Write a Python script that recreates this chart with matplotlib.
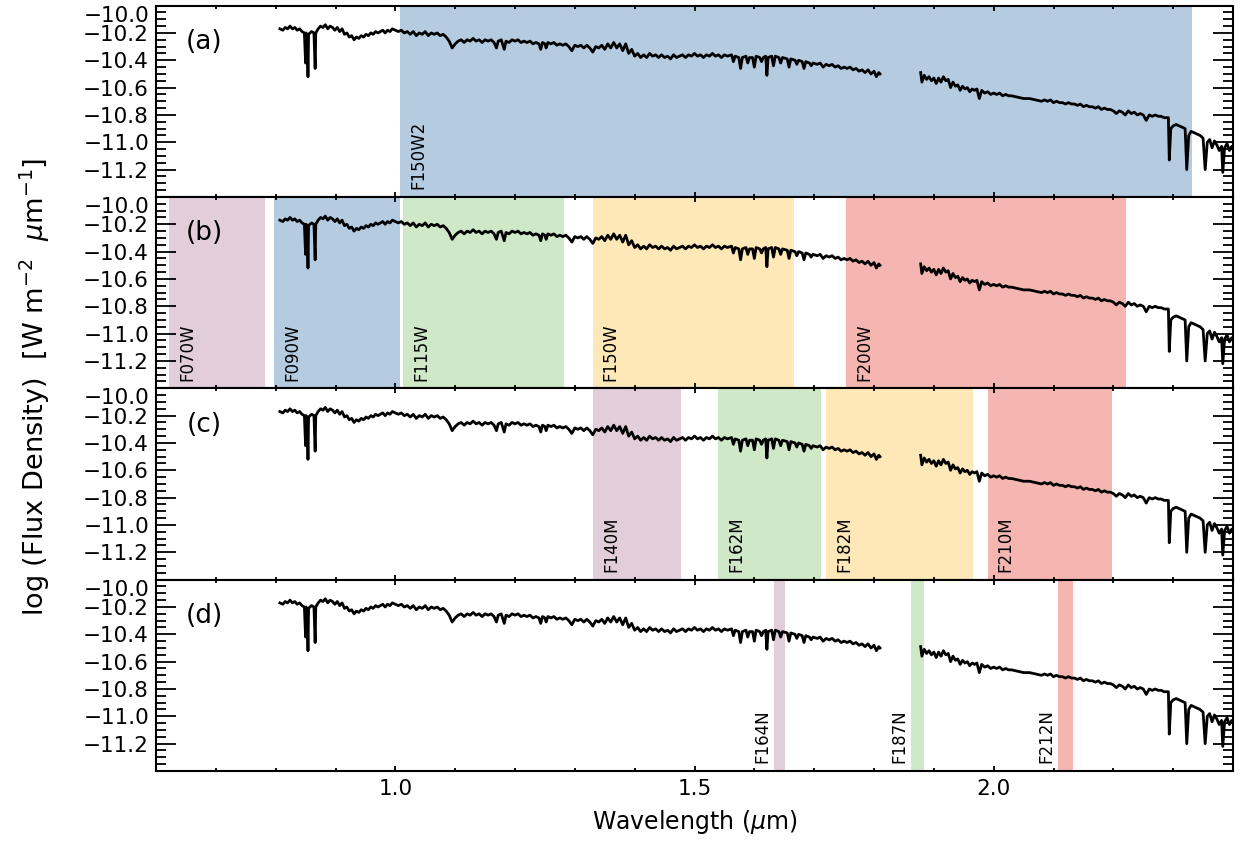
#!/usr/bin/env python3
"""NIRCam filter bands over a stellar spectrum, four stacked panels."""

import numpy as np
import matplotlib
matplotlib.use('Agg')
import matplotlib.pyplot as plt
from matplotlib.ticker import MultipleLocator, FixedLocator

# band colours
PINK = '#E2CDDA'
BLUE = '#B5CBE0'
GREEN = '#CFE8C8'
YELLOW = '#FEE8B7'
RED = '#F5B6B2'

plt.rcParams.update({
    'font.family': 'DejaVu Sans',
    'axes.linewidth': 1.5,
    'xtick.direction': 'in',
    'ytick.direction': 'in',
})

# ---- spectrum, blue part and red part ----
wave_blue = [
    0.807, 0.812, 0.816, 0.820, 0.824, 0.828, 0.832, 0.836, 0.840, 0.844,
    0.848, 0.850, 0.851, 0.853, 0.854, 0.855, 0.860, 0.864, 0.866, 0.867,
    0.871, 0.875, 0.879, 0.883, 0.887, 0.891, 0.895, 0.899, 0.903, 0.907,
    0.911, 0.915, 0.919, 0.923, 0.927, 0.931, 0.935, 0.939, 0.943, 0.947,
    0.951, 0.955, 0.959, 0.963, 0.967, 0.971, 0.975, 0.979, 0.983, 0.987,
    0.991, 0.995, 1.000, 1.005, 1.010, 1.015, 1.020, 1.025, 1.030, 1.035,
    1.040, 1.045, 1.050, 1.055, 1.060, 1.065, 1.070, 1.075, 1.080, 1.085,
    1.090, 1.095, 1.100, 1.105, 1.110, 1.115, 1.120, 1.125, 1.130, 1.135,
    1.140, 1.145, 1.150, 1.155, 1.160, 1.165, 1.169, 1.172, 1.177, 1.182,
    1.185, 1.190, 1.195, 1.200, 1.205, 1.210, 1.215, 1.220, 1.225, 1.230,
    1.235, 1.240, 1.243, 1.246, 1.250, 1.252, 1.255, 1.260, 1.265, 1.270,
    1.275, 1.280, 1.285, 1.290, 1.295, 1.300, 1.305, 1.310, 1.315, 1.320,
    1.325, 1.330, 1.335, 1.340, 1.345, 1.350, 1.355, 1.360, 1.365, 1.370,
    1.375, 1.380, 1.385, 1.390, 1.395, 1.400, 1.405, 1.410, 1.415, 1.420,
    1.425, 1.430, 1.435, 1.440, 1.445, 1.450, 1.455, 1.460, 1.465, 1.470,
    1.475, 1.480, 1.485, 1.490, 1.495, 1.500, 1.505, 1.510, 1.515, 1.520,
    1.525, 1.530, 1.535, 1.540, 1.545, 1.550,
    1.555, 1.562, 1.565, 1.568, 1.574, 1.577, 1.580, 1.586, 1.589, 1.592,
    1.597, 1.600, 1.603, 1.609, 1.612, 1.615, 1.619, 1.621, 1.623, 1.629,
    1.632, 1.635, 1.641, 1.644, 1.647, 1.655, 1.658, 1.661, 1.668, 1.671,
    1.674, 1.680, 1.683, 1.686, 1.692, 1.695, 1.698, 1.705, 1.710, 1.715,
    1.720, 1.725, 1.730, 1.735, 1.740, 1.745, 1.750, 1.755, 1.760, 1.765,
    1.770, 1.775, 1.780, 1.785, 1.790, 1.795, 1.800, 1.804, 1.808, 1.810,
]
flux_blue = [
    -10.17, -10.18, -10.16, -10.17, -10.15, -10.17, -10.16, -10.18, -10.17, -10.19,
    -10.20, -10.42, -10.20, -10.30, -10.52, -10.21, -10.19, -10.20, -10.46, -10.20,
    -10.17, -10.15, -10.16, -10.14, -10.17, -10.15, -10.16, -10.18, -10.16, -10.19,
    -10.17, -10.21, -10.20, -10.23, -10.22, -10.25, -10.23, -10.24, -10.22, -10.23,
    -10.21, -10.22, -10.20, -10.21, -10.19, -10.20, -10.19, -10.18, -10.20, -10.18,
    -10.19, -10.17, -10.18, -10.19, -10.18, -10.20, -10.19, -10.21, -10.19, -10.22,
    -10.20, -10.21, -10.19, -10.22, -10.20, -10.21, -10.20, -10.22, -10.21, -10.23,
    -10.26, -10.31, -10.28, -10.26, -10.25, -10.27, -10.25, -10.26, -10.24, -10.26,
    -10.25, -10.27, -10.25, -10.26, -10.25, -10.27, -10.31, -10.26, -10.25, -10.32,
    -10.26, -10.27, -10.25, -10.26, -10.25, -10.27, -10.26, -10.27, -10.26, -10.28,
    -10.27, -10.28, -10.32, -10.27, -10.28, -10.31, -10.27, -10.28, -10.27, -10.29,
    -10.28, -10.29, -10.28, -10.30, -10.33, -10.29, -10.30, -10.29, -10.31, -10.29,
    -10.31, -10.34, -10.30, -10.31, -10.29, -10.32, -10.28, -10.31, -10.27, -10.31,
    -10.28, -10.33, -10.28, -10.35, -10.32, -10.37, -10.35, -10.38, -10.36, -10.38,
    -10.35, -10.37, -10.36, -10.38, -10.36, -10.38, -10.37, -10.39, -10.36, -10.38,
    -10.37, -10.36, -10.38, -10.36, -10.37, -10.35, -10.37, -10.36, -10.38, -10.36,
    -10.37, -10.35, -10.37, -10.36, -10.38, -10.36,
    -10.37, -10.36, -10.41, -10.37, -10.38, -10.46, -10.38, -10.37, -10.42, -10.38,
    -10.38, -10.45, -10.37, -10.38, -10.41, -10.38, -10.37, -10.51, -10.38, -10.37,
    -10.44, -10.37, -10.38, -10.42, -10.38, -10.39, -10.45, -10.39, -10.40, -10.43,
    -10.40, -10.41, -10.46, -10.41, -10.42, -10.44, -10.42, -10.43, -10.42, -10.45,
    -10.43, -10.44, -10.43, -10.45, -10.44, -10.46, -10.45, -10.46, -10.45, -10.47,
    -10.46, -10.48, -10.47, -10.49, -10.47, -10.50, -10.48, -10.52, -10.49, -10.50,
]
wave_red = [
    1.878, 1.880, 1.884, 1.888, 1.892, 1.896, 1.900, 1.904, 1.908, 1.912,
    1.916, 1.920, 1.924, 1.928, 1.932, 1.936, 1.940, 1.944, 1.948, 1.952,
    1.956, 1.960, 1.964, 1.968, 1.972, 1.976, 1.980, 1.985, 1.990, 1.995,
    2.000, 2.005, 2.010, 2.015, 2.020, 2.025, 2.030, 2.040, 2.050, 2.060,
    2.070, 2.080, 2.085, 2.090, 2.095, 2.100, 2.105, 2.110, 2.115, 2.120,
    2.125, 2.130, 2.135, 2.140, 2.145, 2.150, 2.155, 2.160, 2.165, 2.170,
    2.175, 2.180, 2.185, 2.190, 2.195, 2.200, 2.205, 2.210, 2.215, 2.220,
    2.225, 2.230, 2.235, 2.240, 2.245, 2.250, 2.255, 2.260, 2.265, 2.270,
    2.275, 2.280, 2.285, 2.292, 2.2935, 2.296, 2.300, 2.305, 2.310, 2.315,
    2.320, 2.3227, 2.326, 2.330, 2.335, 2.340, 2.345, 2.350, 2.3535, 2.357,
    2.361, 2.365, 2.369, 2.373, 2.377, 2.381, 2.3829, 2.386, 2.390, 2.394,
    2.398, 2.400,
]
flux_red = [
    -10.49, -10.56, -10.51, -10.54, -10.52, -10.55, -10.53, -10.57, -10.53, -10.56,
    -10.52, -10.55, -10.54, -10.60, -10.56, -10.59, -10.58, -10.62, -10.59, -10.61,
    -10.60, -10.63, -10.61, -10.62, -10.61, -10.68, -10.62, -10.64, -10.63, -10.65,
    -10.64, -10.65, -10.64, -10.66, -10.65, -10.66, -10.66, -10.67, -10.68, -10.68,
    -10.69, -10.70, -10.69, -10.70, -10.69, -10.71, -10.70, -10.71, -10.71, -10.72,
    -10.71, -10.72, -10.72, -10.73, -10.72, -10.74, -10.73, -10.74, -10.74, -10.75,
    -10.74, -10.76, -10.75, -10.76, -10.76, -10.77, -10.79, -10.77, -10.78, -10.80,
    -10.77, -10.79, -10.78, -10.80, -10.79, -10.80, -10.84, -10.80, -10.81, -10.80,
    -10.81, -10.81, -10.82, -10.82, -11.13, -10.90, -10.88, -10.87, -10.88, -10.89,
    -10.90, -11.20, -10.95, -10.92, -10.93, -10.94, -10.95, -10.97, -11.20, -11.00,
    -10.98, -11.04, -10.99, -11.02, -11.06, -11.03, -11.22, -11.04, -11.01, -11.06,
    -11.03, -11.05,
]

# ---- filter bands (edges in micron) ----
w2_names = ['F150W2']
w2_lo = [1.008]
w2_hi = [2.332]

wide_names = ['F070W', 'F090W', 'F115W', 'F150W', 'F200W']
wide_lo = [0.622, 0.797, 1.013, 1.330, 1.753]
wide_hi = [0.783, 1.007, 1.282, 1.666, 2.221]

medium_names = ['F140M', 'F162M', 'F182M', 'F210M']
medium_lo = [1.331, 1.540, 1.720, 1.990]
medium_hi = [1.478, 1.712, 1.966, 2.198]

narrow_names = ['F164N', 'F187N', 'F212N']
narrow_lo = [1.633, 1.862, 2.107]
narrow_hi = [1.652, 1.883, 2.132]

panel_tags = ['(a)', '(b)', '(c)', '(d)']
ytick_vals = [-11.2, -11.0, -10.8, -10.6, -10.4, -10.2, -10.0]
xtick_vals = [1.0, 1.5, 2.0]


def draw_bands(ax, names, lo, hi, colors, narrow=False):
    for name, a, b, c in zip(names, lo, hi, colors):
        ax.axvspan(a, b, color=c, lw=0, zorder=0)
        if narrow:
            ax.annotate(name, xy=(a, 0.04), xycoords=('data', 'axes fraction'),
                        xytext=(-2, 0), textcoords='offset points',
                        rotation=90, ha='right', va='bottom', fontsize=12)
        else:
            ax.annotate(name, xy=(a, 0.04), xycoords=('data', 'axes fraction'),
                        xytext=(6.5, 0), textcoords='offset points',
                        rotation=90, ha='left', va='bottom', fontsize=12)


def main():
    fig = plt.figure(figsize=(12.41, 8.51), dpi=100)
    axes = fig.subplots(4, 1, sharex=True, gridspec_kw=dict(hspace=0))
    fig.subplots_adjust(left=156 / 1241, right=1233 / 1241,
                        top=1 - 5.6 / 851, bottom=1 - 771 / 851)

    draw_bands(axes[0], w2_names, w2_lo, w2_hi, [BLUE])
    draw_bands(axes[1], wide_names, wide_lo, wide_hi, [PINK, BLUE, GREEN, YELLOW, RED])
    draw_bands(axes[2], medium_names, medium_lo, medium_hi, [PINK, GREEN, YELLOW, RED])
    draw_bands(axes[3], narrow_names, narrow_lo, narrow_hi, [PINK, GREEN, RED], narrow=True)

    ylabels = [('%.1f' % v).replace('-', '\u2212') for v in ytick_vals]
    for ax, tag in zip(axes, panel_tags):
        ax.plot(wave_blue, flux_blue, color='black', lw=2.0, zorder=2)
        ax.plot(wave_red, flux_red, color='black', lw=2.0, zorder=2)
        ax.text(0.0446, 0.81, tag, transform=ax.transAxes, fontsize=19,
                ha='center', va='center')

        ax.set_xlim(0.6, 2.4)
        ax.set_ylim(-11.4, -10.0)
        ax.set_yticks(ytick_vals)
        ax.set_yticklabels(ylabels)
        ax.yaxis.set_minor_locator(MultipleLocator(0.05))
        ax.get_yticklabels()[-1].set_va('top')
        ax.tick_params(axis='y', which='both', left=True, right=True,
                       labelsize=15.5, width=1.3, pad=5)
        ax.tick_params(axis='y', which='major', length=14.5)
        ax.tick_params(axis='y', which='minor', length=7)
        ax.tick_params(axis='x', which='both', top=True, bottom=True, width=1.3)
        ax.tick_params(axis='x', which='major', length=3.5)
        ax.tick_params(axis='x', which='minor', length=2.2)
        for sp in ax.spines.values():
            sp.set_zorder(3)

    bottom = axes[-1]
    bottom.xaxis.set_major_locator(FixedLocator(xtick_vals))
    bottom.xaxis.set_minor_locator(MultipleLocator(0.1))
    bottom.set_xticklabels(['%.1f' % v for v in xtick_vals])
    bottom.tick_params(axis='x', labelsize=15.5, pad=6)
    bottom.set_xlabel(r'Wavelength ($\mu$m)', fontsize=17, labelpad=6)

    fig.text(0.028, 0.545, r'log (Flux Density)  [W m$^{-2}$  $\mu$m$^{-1}$]',
             rotation=90, ha='center', va='center', fontsize=19.5)

    fig.savefig('out.png', dpi=100)
    plt.close(fig)


if __name__ == '__main__':
    main()
